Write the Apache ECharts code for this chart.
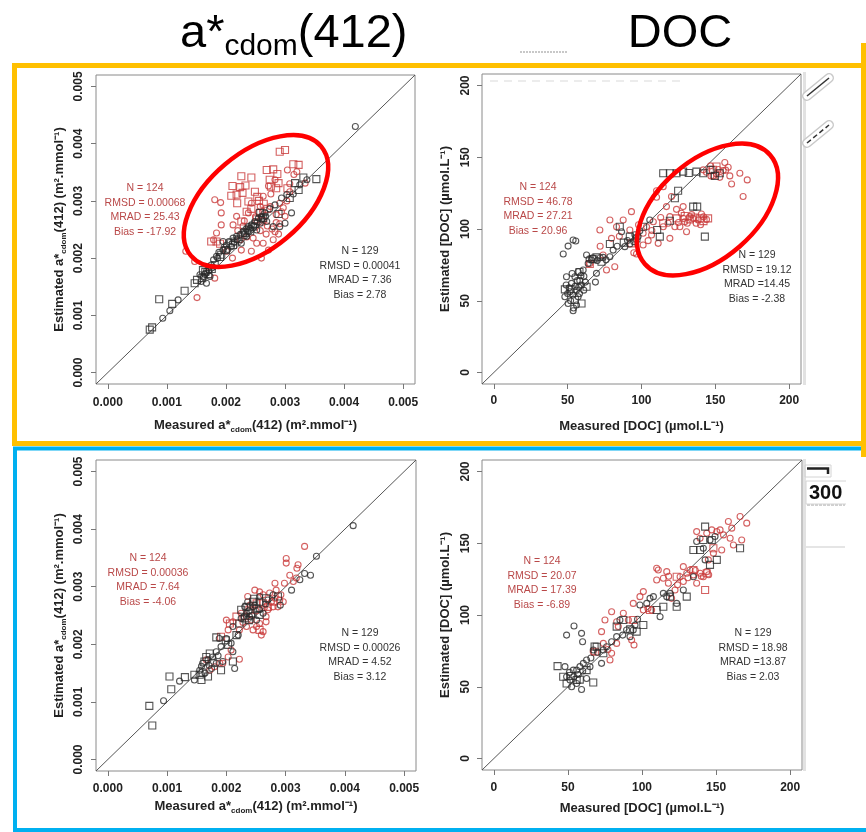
<!DOCTYPE html>
<html>
<head>
<meta charset="utf-8">
<script src="https://cdn.jsdelivr.net/npm/echarts@6/dist/echarts.min.js"></script>
<style>
  html, body { margin: 0; padding: 0; background: #fff; }
  #chart { width: 866px; height: 832px; }
</style>
</head>
<body>
<div id="chart"></div>
<script>
// ---- axis ticks and ranges ----
const cdomTicks = [0, 0.001, 0.002, 0.003, 0.004, 0.005];
const docTicks = [0, 50, 100, 150, 200];
const cdomRange = [-0.0002, 0.0052];
const docRange = [-8, 208];

// ---- statistics boxes ----
const cdomTopRedStats = ['N = 124', 'RMSD = 0.00068', 'MRAD = 25.43', 'Bias = -17.92'];
const cdomTopBlackStats = ['N = 129', 'RMSD = 0.00041', 'MRAD = 7.36', 'Bias = 2.78'];
const docTopRedStats = ['N = 124', 'RMSD = 46.78', 'MRAD = 27.21', 'Bias = 20.96'];
const docTopBlackStats = ['N = 129', 'RMSD = 19.12', 'MRAD =14.45', 'Bias = -2.38'];
const cdomBottomRedStats = ['N = 124', 'RMSD = 0.00036', 'MRAD = 7.64', 'Bias = -4.06'];
const cdomBottomBlackStats = ['N = 129', 'RMSD = 0.00026', 'MRAD = 4.52', 'Bias = 3.12'];
const docBottomRedStats = ['N = 124', 'RMSD = 20.07', 'MRAD = 17.39', 'Bias = -6.89'];
const docBottomBlackStats = ['N = 129', 'RMSD = 18.98', 'MRAD =13.87', 'Bias = 2.03'];

// ---- a*cdom(412), top row: [measured, estimated] ----
const cdomTopBlackCircles = [
  [0.00419,0.00430],[0.00093,0.00095],[0.00105,0.00108],[0.00119,0.00127],[0.00156,0.00171],[0.00162,0.00167],
  [0.00167,0.00177],[0.00171,0.00179],[0.00175,0.00188],[0.00179,0.00197],[0.00184,0.00203],[0.00188,0.00210],
  [0.00195,0.00214],[0.00201,0.00223],[0.00205,0.00229],[0.00212,0.00235],[0.00218,0.00238],[0.00224,0.00241],
  [0.00229,0.00247],[0.00234,0.00251],[0.00238,0.00255],[0.00243,0.00258],[0.00249,0.00264],[0.00255,0.00270],
  [0.00260,0.00273],[0.00266,0.00279],[0.00274,0.00286],[0.00283,0.00293],[0.00294,0.00305],[0.00303,0.00311],
  [0.00314,0.00312],[0.00311,0.00279],[0.00300,0.00261],[0.00280,0.00255],[0.00325,0.00328],[0.00337,0.00337],
  [0.00195,0.00229],[0.00209,0.00220],[0.00235,0.00238],[0.00252,0.00249],[0.00167,0.00156],[0.00158,0.00159],
  [0.00226,0.00226],[0.00258,0.00261],[0.00269,0.00264],[0.00291,0.00255],[0.00164,0.00172],[0.00173,0.00168],
  [0.00178,0.00184],[0.00186,0.00200],[0.00197,0.00219],[0.00203,0.00215],[0.00214,0.00228],[0.00219,0.00232],
  [0.00231,0.00243],[0.00237,0.00247],[0.00241,0.00252],[0.00247,0.00256],[0.00253,0.00263],[0.00261,0.00268],
  [0.00267,0.00273]
];
const cdomTopBlackSquares = [
  [0.00071,0.00075],[0.00075,0.00079],[0.00087,0.00128],[0.00109,0.00120],[0.00130,0.00143],[0.00147,0.00156],
  [0.00151,0.00162],[0.00160,0.00165],[0.00170,0.00172],[0.00161,0.00179],[0.00181,0.00188],[0.00192,0.00206],
  [0.00200,0.00214],[0.00215,0.00229],[0.00221,0.00233],[0.00232,0.00244],[0.00241,0.00247],[0.00246,0.00255],
  [0.00263,0.00270],[0.00289,0.00277],[0.00308,0.00305],[0.00317,0.00331],[0.00331,0.00341],[0.00353,0.00338],
  [0.00323,0.00319],[0.00212,0.00223],[0.00258,0.00279],[0.00165,0.00176],[0.00176,0.00181],[0.00190,0.00202],
  [0.00208,0.00226],[0.00228,0.00240],[0.00238,0.00250],[0.00250,0.00260]
];
const cdomTopRedSquares = [
  [0.00291,0.00386],[0.00300,0.00389],[0.00314,0.00364],[0.00323,0.00363],[0.00280,0.00355],[0.00287,0.00347],
  [0.00274,0.00337],[0.00226,0.00343],[0.00243,0.00341],[0.00211,0.00326],[0.00224,0.00324],[0.00209,0.00309],
  [0.00218,0.00311],[0.00228,0.00314],[0.00249,0.00316],[0.00253,0.00307],[0.00243,0.00286],[0.00235,0.00281],
  [0.00264,0.00295],[0.00270,0.00286],[0.00285,0.00322],[0.00289,0.00331],[0.00252,0.00268],[0.00260,0.00264],
  [0.00175,0.00229],[0.00184,0.00229],[0.00190,0.00225],[0.00276,0.00325],[0.00226,0.00264],[0.00238,0.00299],
  [0.00269,0.00354],[0.00304,0.00322],[0.00233,0.00327],[0.00256,0.00300],[0.00219,0.00296]
];
const cdomTopRedCircles = [
  [0.00181,0.00302],[0.00191,0.00297],[0.00192,0.00279],[0.00192,0.00258],[0.00184,0.00244],[0.00179,0.00232],
  [0.00132,0.00212],[0.00147,0.00194],[0.00170,0.00185],[0.00181,0.00165],[0.00151,0.00131],[0.00211,0.00200],
  [0.00226,0.00214],[0.00243,0.00212],[0.00260,0.00200],[0.00272,0.00214],[0.00291,0.00260],[0.00289,0.00242],
  [0.00280,0.00232],[0.00304,0.00354],[0.00320,0.00351],[0.00334,0.00331],[0.00308,0.00330],[0.00283,0.00337],
  [0.00272,0.00326],[0.00276,0.00312],[0.00264,0.00266],[0.00270,0.00256],[0.00278,0.00251],[0.00258,0.00248],
  [0.00268,0.00242],[0.00229,0.00256],[0.00235,0.00237],[0.00246,0.00235],[0.00218,0.00273],[0.00255,0.00280],
  [0.00238,0.00279],[0.00291,0.00296],[0.00294,0.00281],[0.00300,0.00273],[0.00201,0.00212],[0.00252,0.00226],
  [0.00263,0.00226],[0.00224,0.00232],[0.00283,0.00246],[0.00315,0.00346],[0.00243,0.00296],[0.00263,0.00308],
  [0.00212,0.00258],[0.00258,0.00290],[0.00250,0.00272],[0.00262,0.00282],[0.00275,0.00290],[0.00285,0.00262],
  [0.00297,0.00288],[0.00303,0.00300],[0.00308,0.00316],[0.00220,0.00248],[0.00231,0.00265],[0.00285,0.00276]
];

// ---- [DOC], top row ----
const docTopBlackCircles = [
  [47.0,82.6],[50.3,88.1],[53.7,92.3],[55.5,91.6],[48.1,52.8],[50.3,48.1],[53.7,43.0],[56.0,47.0],[52.6,62.1],
  [54.9,66.7],[57.1,70.2],[60.5,71.4],[58.2,64.0],[60.9,57.4],[51.5,56.3],[56.0,57.4],[59.4,60.9],[62.8,81.9],
  [66.1,78.4],[69.5,69.1],[68.8,63.0],[74.0,80.2],[78.6,80.7],[92.1,89.5],[94.8,91.2],[98.9,98.8],[86.5,98.1],
  [80.8,85.3],[105.6,106.3],[49.2,66.7],[57.1,52.8],[63.9,76.0],[88.7,87.7],[97.7,94.7],[53.0,69.0],[55.0,60.0],
  [58.0,55.0],[52.0,50.0],[61.0,67.0],[49.0,61.0],[54.0,45.0],[67.0,80.0],[70.0,78.0],[72.0,80.0],[51.0,59.0],
  [56.5,64.0],[59.0,67.5],[53.5,54.0],[57.5,59.5],[50.0,55.0],[62.0,63.0],[64.5,79.0],[76.0,78.5],[90.5,92.0],
  [95.5,96.0],[83.5,88.0]
];
const docTopBlackSquares = [
  [48.1,57.9],[59.4,48.1],[69.5,80.2],[72.9,77.2],[78.6,89.5],[85.3,101.6],[96.6,93.5],[101.1,101.6],[114.7,138.8],
  [119.2,138.8],[123.7,138.8],[128.2,140.0],[137.2,140.0],[141.8,138.8],[146.7,141.2],[153.0,138.8],[124.8,126.7],
  [122.6,121.4],[135.0,115.6],[137.7,115.6],[119.2,105.8],[142.9,94.7],[110.6,99.3],[112.4,94.7],[54.9,50.5],
  [62.8,59.8],[92.1,94.7],[149.7,137.0],[132.0,139.0],[52.0,58.0],[58.0,70.0],[67.0,79.0],[88.0,90.5]
];
const docTopRedCircles = [
  [78.6,106.3],[87.6,106.3],[93.2,112.1],[71.8,99.3],[83.1,101.6],[65.0,76.0],[74.0,81.9],[76.3,71.4],[81.9,73.7],
  [94.8,83.5],[101.1,97.0],[103.4,101.6],[110.2,126.7],[114.7,129.5],[110.2,122.1],[119.2,108.6],[123.7,113.7],
  [128.2,107.4],[132.7,108.6],[140.6,110.5],[144.0,106.7],[126.0,101.6],[130.5,98.1],[141.8,141.2],[146.7,144.0],
  [150.8,138.4],[156.4,146.3],[158.7,143.0],[159.8,137.0],[161.0,131.4],[166.6,138.8],[171.6,134.2],[168.8,122.6],
  [114.7,101.6],[104.5,91.9],[96.6,82.6],[111.3,90.0],[119.2,93.5],[122.6,101.6],[116.9,115.6],[120.3,122.6],
  [128.2,115.6],[135.0,107.4],[138.4,106.3],[148.5,137.0],[155.3,140.7],[92.1,99.3],[101.1,88.8],[106.8,95.8],
  [129.3,105.1],[79.7,93.5],[131.0,104.0],[134.0,110.0],[137.0,104.0],[140.0,103.0],[142.0,108.5],[127.0,111.0],
  [125.0,104.5],[118.0,104.0],[113.0,108.0],[108.0,105.0],[144.0,139.5],[147.0,137.0],[152.0,141.5],[153.0,136.0],
  [157.0,141.0],[98.0,103.0],[107.0,99.0],[85.0,95.0],[72.0,88.0]
];
const docTopRedSquares = [
  [123.7,107.4],[132.7,106.7],[139.5,107.4],[145.1,107.4],[65.0,75.6],[93.2,90.0],[114.7,104.0],[129.3,109.1],
  [148.5,141.2],[150.8,143.5],[136.0,108.0],[142.0,105.5]
];

// ---- a*cdom(412), bottom row ----
const cdomBottomBlackCircles = [
  [0.00414,0.00406],[0.00352,0.00353],[0.00332,0.00323],[0.00342,0.00320],[0.00324,0.00312],[0.00310,0.00294],
  [0.00291,0.00268],[0.00270,0.00277],[0.00256,0.00260],[0.00245,0.00265],[0.00234,0.00254],[0.00225,0.00245],
  [0.00239,0.00248],[0.00251,0.00242],[0.00262,0.00254],[0.00220,0.00216],[0.00208,0.00202],[0.00211,0.00187],
  [0.00214,0.00158],[0.00200,0.00210],[0.00188,0.00210],[0.00160,0.00167],[0.00169,0.00173],[0.00177,0.00178],
  [0.00183,0.00187],[0.00191,0.00196],[0.00183,0.00167],[0.00194,0.00170],[0.00175,0.00158],[0.00155,0.00155],
  [0.00146,0.00138],[0.00094,0.00102],[0.00121,0.00136],[0.00279,0.00286],[0.00256,0.00283],[0.00231,0.00265],
  [0.00211,0.00231],[0.00236,0.00274],[0.00158,0.00162],[0.00164,0.00150],[0.00171,0.00163],[0.00186,0.00180],
  [0.00238,0.00258],[0.00243,0.00250],[0.00248,0.00268],[0.00230,0.00248],[0.00266,0.00270]
];
const cdomBottomBlackSquares = [
  [0.00075,0.00059],[0.00070,0.00093],[0.00107,0.00122],[0.00104,0.00144],[0.00130,0.00143],[0.00146,0.00147],
  [0.00155,0.00147],[0.00160,0.00151],[0.00166,0.00178],[0.00172,0.00184],[0.00183,0.00212],[0.00199,0.00207],
  [0.00203,0.00199],[0.00211,0.00170],[0.00225,0.00260],[0.00234,0.00265],[0.00245,0.00274],[0.00242,0.00254],
  [0.00251,0.00262],[0.00256,0.00251],[0.00267,0.00280],[0.00287,0.00283],[0.00222,0.00236],[0.00231,0.00245],
  [0.00191,0.00155],[0.00169,0.00144],[0.00256,0.00274],[0.00217,0.00216],[0.00158,0.00138],[0.00163,0.00170],
  [0.00177,0.00168],[0.00238,0.00242],[0.00247,0.00279]
];
const cdomBottomRedCircles = [
  [0.00332,0.00370],[0.00301,0.00349],[0.00301,0.00341],[0.00321,0.00338],[0.00319,0.00332],[0.00307,0.00320],
  [0.00318,0.00315],[0.00298,0.00306],[0.00282,0.00306],[0.00284,0.00294],[0.00248,0.00294],[0.00256,0.00291],
  [0.00262,0.00286],[0.00273,0.00289],[0.00282,0.00280],[0.00290,0.00277],[0.00200,0.00242],[0.00203,0.00225],
  [0.00208,0.00190],[0.00222,0.00174],[0.00189,0.00167],[0.00180,0.00161],[0.00166,0.00173],[0.00256,0.00236],
  [0.00262,0.00222],[0.00259,0.00216],[0.00267,0.00239],[0.00225,0.00254],[0.00234,0.00248],[0.00242,0.00242],
  [0.00251,0.00231],[0.00234,0.00231],[0.00222,0.00225],[0.00245,0.00225],[0.00270,0.00260],[0.00279,0.00265],
  [0.00287,0.00265],[0.00296,0.00274],[0.00211,0.00239],[0.00194,0.00167],[0.00203,0.00178],[0.00172,0.00155],
  [0.00236,0.00283],[0.00313,0.00309],[0.00267,0.00248],[0.00240,0.00268],[0.00250,0.00258],[0.00276,0.00274],
  [0.00264,0.00264],[0.00292,0.00286],[0.00228,0.00238]
];
const cdomBottomRedSquares = [
  [0.00262,0.00271],[0.00251,0.00271],[0.00270,0.00265],[0.00217,0.00248],[0.00206,0.00236],[0.00279,0.00274],
  [0.00239,0.00260],[0.00191,0.00213],[0.00256,0.00225]
];

// ---- [DOC], bottom row ----
const docBottomBlackCircles = [
  [49.1,86.0],[54.1,92.3],[59.2,87.2],[59.9,81.4],[48.0,64.0],[49.1,57.0],[51.4,54.7],[55.9,52.3],[59.2,48.1],
  [53.6,61.6],[58.1,64.0],[60.4,66.3],[62.6,68.6],[62.6,55.8],[67.1,75.6],[73.9,75.6],[72.7,66.3],[79.5,81.4],
  [82.9,84.9],[85.1,96.5],[89.6,89.5],[94.1,89.5],[95.3,93.0],[98.6,107.0],[103.2,108.1],[105.4,111.6],
  [112.2,98.8],[116.7,112.8],[118.9,115.1],[123.4,108.1],[134.7,126.7],[136.9,151.2],[141.4,146.5],[145.9,152.3],
  [149.3,154.7],[142.6,138.4],[55.9,61.6],[52.5,50.0],[64.9,64.0],[76.1,77.9],[91.9,84.9],[107.7,112.8],
  [114.4,115.1],[127.9,117.4],[51.0,60.0],[54.0,57.0],[57.0,58.5],[60.0,61.0],[65.5,70.0],[70.0,74.0],
  [87.0,86.0],[97.0,97.0]
];
const docBottomBlackSquares = [
  [43.0,64.4],[67.1,53.0],[69.4,77.9],[87.4,96.5],[96.4,88.4],[100.9,93.0],[130.2,112.8],[134.7,145.3],[142.6,161.6],
  [166.2,146.5],[145.9,134.9],[150.5,138.4],[147.1,152.3],[49.1,52.3],[55.9,54.7],[62.6,61.6],[82.9,91.9],
  [109.9,103.5],[114.4,105.8],[118.9,112.8],[123.4,105.8],[139.2,145.3],[141.4,152.3],[46.8,57.0],[73.9,73.3],
  [52.0,57.5],[58.0,55.0],[68.0,78.0],[92.0,90.0]
];
const docBottomRedCircles = [
  [67.1,74.4],[72.7,88.4],[75.0,96.5],[79.5,102.3],[82.9,95.3],[90.8,96.5],[94.1,108.1],[100.9,116.3],[94.6,79.1],
  [93.0,82.6],[82.9,80.2],[79.5,73.3],[78.4,68.6],[109.9,132.6],[111.0,131.4],[109.9,124.4],[114.4,125.6],
  [116.7,130.2],[117.8,122.1],[120.0,111.6],[122.3,117.4],[125.7,126.7],[127.9,123.3],[130.2,129.1],[132.4,131.4],
  [134.7,127.9],[136.9,122.1],[139.2,129.1],[143.7,130.2],[144.8,138.4],[136.9,158.1],[139.2,153.5],[143.7,157.0],
  [147.1,159.3],[150.5,158.1],[152.7,159.3],[155.0,155.8],[158.3,165.1],[160.6,160.5],[159.5,153.5],[161.7,148.8],
  [166.2,168.6],[170.7,164.0],[167.3,152.3],[153.8,145.3],[148.2,143.0],[87.4,101.2],[98.6,112.8],[106.5,103.5],
  [141.4,126.7],[127.9,133.7],[100.9,103.5],[73.9,80.2],[131.0,126.0],[136.0,131.0],[140.0,127.0],[145.0,128.0],
  [124.0,121.0],[118.0,127.0],[104.0,104.5],[84.0,92.0],[77.0,76.0]
];
const docBottomRedSquares = [
  [142.6,117.4],[68.2,74.4],[94.1,96.5],[105.4,103.5],[123.4,126.7],[134.7,131.4],[143.7,129.1],[148.2,146.5]
];

// ---- styling ----
const FONT = '"Liberation Sans", Arial, Helvetica, sans-serif';
const BLACK = '#2b2b2b';
const RED = '#c93a3a';
const RED_TEXT = '#b94848';
const GREY_TEXT = '#333333';

const cdomXName = 'Measured a*{sub|cdom}(412) (m².mmol⁻¹)';
const cdomYName = 'Estimated a*{sub|cdom}(412) (m².mmol⁻¹)';
const docXName = 'Measured [DOC] (µmol.L⁻¹)';
const docYName = 'Estimated [DOC] (µmol.L⁻¹)';

const nameRich = {
  sub: { fontFamily: FONT, fontWeight: 'bold', fontSize: 8, color: '#222', lineHeight: 9, verticalAlign: 'bottom' }
};

const grids = [
  { left: 96, top: 75, width: 319, height: 309 },
  { left: 482, top: 74, width: 319, height: 310 },
  { left: 96, top: 460, width: 320, height: 311 },
  { left: 482, top: 460, width: 320, height: 310 }
].map(g => Object.assign({ show: true, borderColor: '#8a8a8a', borderWidth: 1, backgroundColor: 'transparent' }, g));

function makeAxis(isY, gi, range, ticks, digits, name, nameGap, labelMargin) {
  return {
    type: 'value', gridIndex: gi, min: range[0], max: range[1],
    position: isY ? 'left' : 'bottom',
    name: name, nameLocation: 'middle', nameGap: nameGap, nameRotate: isY ? 90 : 0,
    nameTextStyle: { fontFamily: FONT, fontWeight: 'bold', fontSize: 13, color: '#222', lineHeight: 17, rich: nameRich },
    axisLine: { show: false, onZero: false },
    axisTick: { show: true, inside: false, length: 5, customValues: ticks, lineStyle: { color: '#777', width: 1 } },
    axisLabel: {
      show: true, customValues: ticks, margin: labelMargin, rotate: isY ? 90 : 0,
      formatter: v => Number(v).toFixed(digits),
      fontFamily: FONT, fontWeight: 'bold', fontSize: 12, color: '#222'
    },
    splitLine: { show: false }
  };
}

const xAxes = [
  makeAxis(false, 0, cdomRange, cdomTicks, 3, cdomXName, 33, 13),
  makeAxis(false, 1, docRange, docTicks, 0, docXName, 34, 11),
  makeAxis(false, 2, cdomRange, cdomTicks, 3, cdomXName, 27, 12),
  makeAxis(false, 3, docRange, docTicks, 0, docXName, 30, 12)
];
const yAxes = [
  makeAxis(true, 0, cdomRange, cdomTicks, 3, cdomYName, 28, 11),
  makeAxis(true, 1, docRange, docTicks, 0, docYName, 28, 10),
  makeAxis(true, 2, cdomRange, cdomTicks, 3, cdomYName, 28, 11),
  makeAxis(true, 3, docRange, docTicks, 0, docYName, 28, 10)
];

function scatter(gi, data, symbol, color, size) {
  return {
    type: 'scatter', xAxisIndex: gi, yAxisIndex: gi, data: data,
    symbol: symbol, symbolSize: size, silent: true, z: 3,
    itemStyle: { color: 'rgba(0,0,0,0)', borderColor: color, borderWidth: 1.1 }
  };
}
function oneToOne(gi, range) {
  return {
    type: 'line', xAxisIndex: gi, yAxisIndex: gi, data: [[range[0], range[0]], [range[1], range[1]]],
    symbol: 'none', silent: true, z: 2, lineStyle: { color: '#555', width: 1 }
  };
}

const panels = [
  { range: cdomRange, rc: cdomTopRedCircles, rs: cdomTopRedSquares, bc: cdomTopBlackCircles, bs: cdomTopBlackSquares },
  { range: docRange, rc: docTopRedCircles, rs: docTopRedSquares, bc: docTopBlackCircles, bs: docTopBlackSquares },
  { range: cdomRange, rc: cdomBottomRedCircles, rs: cdomBottomRedSquares, bc: cdomBottomBlackCircles, bs: cdomBottomBlackSquares },
  { range: docRange, rc: docBottomRedCircles, rs: docBottomRedSquares, bc: docBottomBlackCircles, bs: docBottomBlackSquares }
];

const series = [];
panels.forEach((p, gi) => {
  series.push(oneToOne(gi, p.range));
  series.push(scatter(gi, p.rs, 'rect', RED, 7));
  series.push(scatter(gi, p.rc, 'circle', RED, 6));
  series.push(scatter(gi, p.bs, 'rect', BLACK, 7));
  series.push(scatter(gi, p.bc, 'circle', BLACK, 6));
});

function statsText(lines, x, y, color) {
  return {
    type: 'text', x: x, y: y, z: 50,
    style: { text: lines.join('\n'), fill: color, fontFamily: FONT, fontSize: 10.5, lineHeight: 14.5, align: 'center', verticalAlign: 'top' }
  };
}

const graphics = [
  // blue frame (lower row)
  { type: 'polyline', z: 60, shape: { points: [[866, 448.5], [15, 448.5], [15, 830], [866, 830]] },
    style: { fill: 'none', stroke: '#00b0f0', lineWidth: 4 } },
  // orange frame (upper row)
  { type: 'polyline', z: 61, shape: { points: [[863.5, 65.5], [14.5, 65.5], [14.5, 443.5], [863.5, 443.5]] },
    style: { fill: 'none', stroke: '#ffc000', lineWidth: 5 } },
  { type: 'line', z: 61, shape: { x1: 863.5, y1: 43, x2: 863.5, y2: 457 },
    style: { stroke: '#ffc000', lineWidth: 5 } },

  // column headings
  { type: 'text', x: 180, y: 6, z: 50,
    style: { text: 'a*{sub|cdom}(412)', fill: '#000', fontFamily: FONT, fontSize: 47, lineHeight: 56,
      rich: { sub: { fill: '#000', fontFamily: FONT, fontSize: 30, lineHeight: 30, verticalAlign: 'bottom' } } } },
  { type: 'text', x: 680, y: 6, z: 50,
    style: { text: 'DOC', fill: '#000', fontFamily: FONT, fontSize: 47, lineHeight: 56, align: 'center' } },
  { type: 'line', z: 50, shape: { x1: 520, y1: 52, x2: 568, y2: 52 },
    style: { stroke: '#c8c8c8', lineWidth: 2, lineDash: [2, 1] } },
  { type: 'line', z: 50, shape: { x1: 490, y1: 81, x2: 680, y2: 81 },
    style: { stroke: '#ececec', lineWidth: 2, lineDash: [8, 6] } },

  // statistics
  statsText(cdomTopRedStats, 145, 181, RED_TEXT),
  statsText(cdomTopBlackStats, 360, 244, GREY_TEXT),
  statsText(docTopRedStats, 538, 180, RED_TEXT),
  statsText(docTopBlackStats, 757, 248, GREY_TEXT),
  statsText(cdomBottomRedStats, 148, 551, RED_TEXT),
  statsText(cdomBottomBlackStats, 360, 626, GREY_TEXT),
  statsText(docBottomRedStats, 542, 554, RED_TEXT),
  statsText(docBottomBlackStats, 753, 626, GREY_TEXT),

  // highlighted clusters
  { type: 'ellipse', x: 256, y: 201, rotation: 40 * Math.PI / 180, z: 70,
    shape: { cx: 0, cy: 0, rx: 85, ry: 48 }, style: { fill: 'none', stroke: '#ff0000', lineWidth: 4.5 } },
  { type: 'ellipse', x: 707.5, y: 209.5, rotation: 41 * Math.PI / 180, z: 70,
    shape: { cx: 0, cy: 0, rx: 83, ry: 49 }, style: { fill: 'none', stroke: '#ff0000', lineWidth: 4.5 } },

  // shaded strip beside the right-hand panels
  { type: 'rect', z: 1, shape: { x: 803, y: 72, width: 3, height: 313 }, style: { fill: '#e2e2e2' } },
  { type: 'rect', z: 1, shape: { x: 803, y: 459, width: 3, height: 312 }, style: { fill: '#e2e2e2' } },

  // line-style swatches at the top right
  { type: 'line', z: 40, shape: { x1: 807, y1: 96, x2: 829, y2: 78 }, style: { stroke: '#c9c9c9', lineWidth: 10, lineCap: 'round' } },
  { type: 'line', z: 41, shape: { x1: 807, y1: 96, x2: 829, y2: 78 }, style: { stroke: '#ffffff', lineWidth: 7, lineCap: 'round' } },
  { type: 'line', z: 42, shape: { x1: 807, y1: 96, x2: 829, y2: 78 }, style: { stroke: '#333', lineWidth: 1.5 } },
  { type: 'line', z: 40, shape: { x1: 807, y1: 143, x2: 829, y2: 125 }, style: { stroke: '#c9c9c9', lineWidth: 10, lineCap: 'round' } },
  { type: 'line', z: 41, shape: { x1: 807, y1: 143, x2: 829, y2: 125 }, style: { stroke: '#ffffff', lineWidth: 7, lineCap: 'round' } },
  { type: 'line', z: 42, shape: { x1: 807, y1: 143, x2: 829, y2: 125 }, style: { stroke: '#333', lineWidth: 1.5, lineDash: [5, 3] } },

  // scale marker beside the lower DOC panel
  { type: 'rect', z: 40, shape: { x: 805, y: 465, width: 26, height: 12 }, style: { fill: 'none', stroke: '#d4d4d4', lineWidth: 1 } },
  { type: 'polyline', z: 41, shape: { points: [[807, 468.5], [828, 468.5], [828, 474]] }, style: { fill: 'none', stroke: '#222', lineWidth: 2.5 } },
  { type: 'rect', z: 40, shape: { x: 806, y: 481, width: 42, height: 23 }, style: { fill: '#fff', stroke: '#d4d4d4', lineWidth: 1 } },
  { type: 'text', x: 809, y: 483, z: 41,
    style: { text: '300', fill: '#111', fontFamily: FONT, fontWeight: 'bold', fontSize: 20, lineHeight: 20 } },
  { type: 'rect', z: 42, shape: { x: 846, y: 478, width: 14, height: 30 }, style: { fill: '#fff' } },
  { type: 'line', z: 41, shape: { x1: 807, y1: 505, x2: 845, y2: 505 }, style: { stroke: '#d0d0d0', lineWidth: 2, lineDash: [3, 1] } },
  { type: 'line', z: 41, shape: { x1: 806, y1: 547, x2: 845, y2: 547 }, style: { stroke: '#dcdcdc', lineWidth: 1.5 } }
];

const chart = echarts.init(document.getElementById('chart'), null, { renderer: 'canvas' });
chart.setOption({
  animation: false,
  backgroundColor: '#ffffff',
  grid: grids,
  xAxis: xAxes,
  yAxis: yAxes,
  series: series,
  graphic: graphics
});
</script>
</body>
</html>
